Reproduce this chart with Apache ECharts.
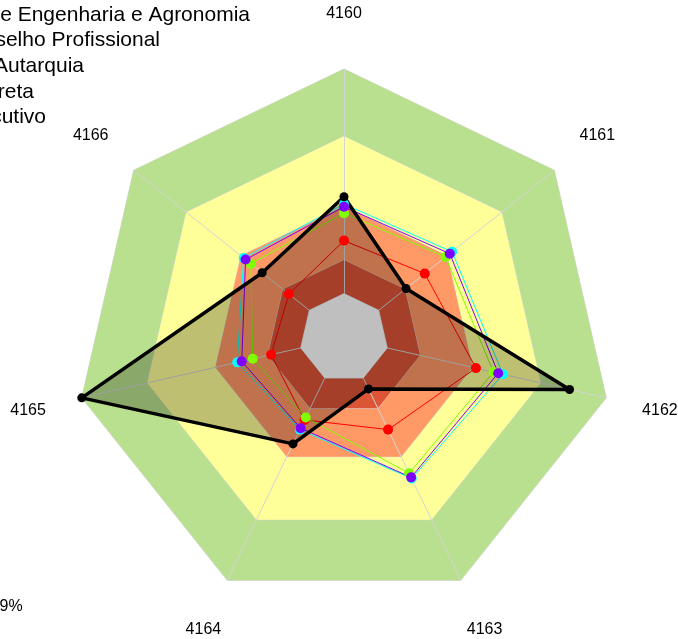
<!DOCTYPE html>
<html>
<head>
<meta charset="utf-8">
<script src="https://cdn.jsdelivr.net/npm/echarts@6/dist/echarts.min.js"></script>
<style>
  html, body { margin: 0; padding: 0; background: #fff; }
  #chart { width: 678px; height: 639px; }
</style>
</head>
<body>
<div id="chart"></div>
<script>
// eixos no sentido horário a partir do topo
const axisNames = ['4160', '4161', '4162', '4163', '4164', '4165', '4166']

// faixas de fundo (de fora para dentro)
const bandLevels = [100, 75, 49, 29, 16.5]

const seriesNames = [
  'Poder Executivo',
  'Administração Indireta',
  'Autarquia',
  'Conselho Profissional',
  'Conselho Regional de Engenharia e Agronomia'
]
const executivo = [36.2, 38.4, 50.3, 37.8, 33.8, 27.8, 26.2]
const indireta = [49.8, 51.4, 60.6, 58.0, 37.8, 40.7, 47.7]
const autarquia = [46.4, 48.3, 57.0, 55.8, 32.8, 34.8, 44.3]
const conselho = [48.8, 50.3, 58.8, 57.5, 37.2, 39.0, 46.8]
const crea = [52.5, 29.5, 86.0, 21.0, 43.7, 100, 38.9]

const footText = '9%'

const bandColors = ['#b9e08e', '#ffff99', '#ff9966', '#dd5537', '#ffffff']
const lineColors = ['#ff0000', '#00ffff', '#80ff00', '#8000ff', '#000000']

// echarts distribui os indicadores no sentido anti-horário
function toEc(arr) {
  return [arr[0]].concat(arr.slice(1).reverse())
}

const chart = echarts.init(document.getElementById('chart'))

const bandSeries = bandLevels.map((lvl, i) => ({
  type: 'radar',
  z: i === bandLevels.length - 1 ? 3 : 1,
  silent: true,
  symbol: 'none',
  lineStyle: { color: '#d6d6d6', width: 1 },
  areaStyle: { color: bandColors[i], opacity: 1 },
  data: [{ value: axisNames.map(() => lvl) }]
}))

const dataValues = [executivo, indireta, autarquia, conselho, crea]
const dataSeries = dataValues.map((vals, i) => {
  const isCrea = i === dataValues.length - 1
  return {
    type: 'radar',
    name: seriesNames[i],
    z: 4,
    symbol: 'circle',
    symbolSize: isCrea ? 9 : 10,
    lineStyle: { color: lineColors[i], width: isCrea ? 3.5 : 1 },
    itemStyle: { color: lineColors[i] },
    areaStyle: isCrea ? { color: '#000', opacity: 0.25 } : undefined,
    data: [{ value: toEc(vals), name: seriesNames[i] }]
  }
})

// legenda cortada na margem esquerda, como no original
const legendRight = [250, 160, 84, 34, 46]
const legendTexts = seriesNames.slice().reverse().map((name, i) => ({
  type: 'text',
  x: legendRight[i],
  y: 15 + i * 25.6,
  style: {
    text: name,
    textAlign: 'right',
    textVerticalAlign: 'middle',
    font: '21px "Liberation Sans", Arial, sans-serif',
    fill: '#000'
  }
}))

const option = {
  animation: false,
  backgroundColor: '#fff',
  radar: {
    center: [344, 338],
    radius: 269,
    startAngle: 90,
    shape: 'polygon',
    z: 2,
    indicator: toEc(axisNames).map(n => ({ name: n, min: 0, max: 100 })),
    axisNameGap: 55,
    axisName: {
      color: '#000',
      fontSize: 16,
      fontFamily: 'Liberation Sans',
      align: 'center',
      verticalAlign: 'middle'
    },
    splitArea: { show: false },
    splitLine: { show: false },
    axisLine: { lineStyle: { color: '#d4d4d4', width: 1 } }
  },
  graphic: legendTexts.concat([{
    type: 'text',
    x: -0.5,
    y: 607,
    style: {
      text: footText,
      textAlign: 'left',
      textVerticalAlign: 'middle',
      font: '16px "Liberation Sans", Arial, sans-serif',
      fill: '#000'
    }
  }]),
  series: bandSeries.concat(dataSeries)
}

chart.setOption(option)
</script>
</body>
</html>
